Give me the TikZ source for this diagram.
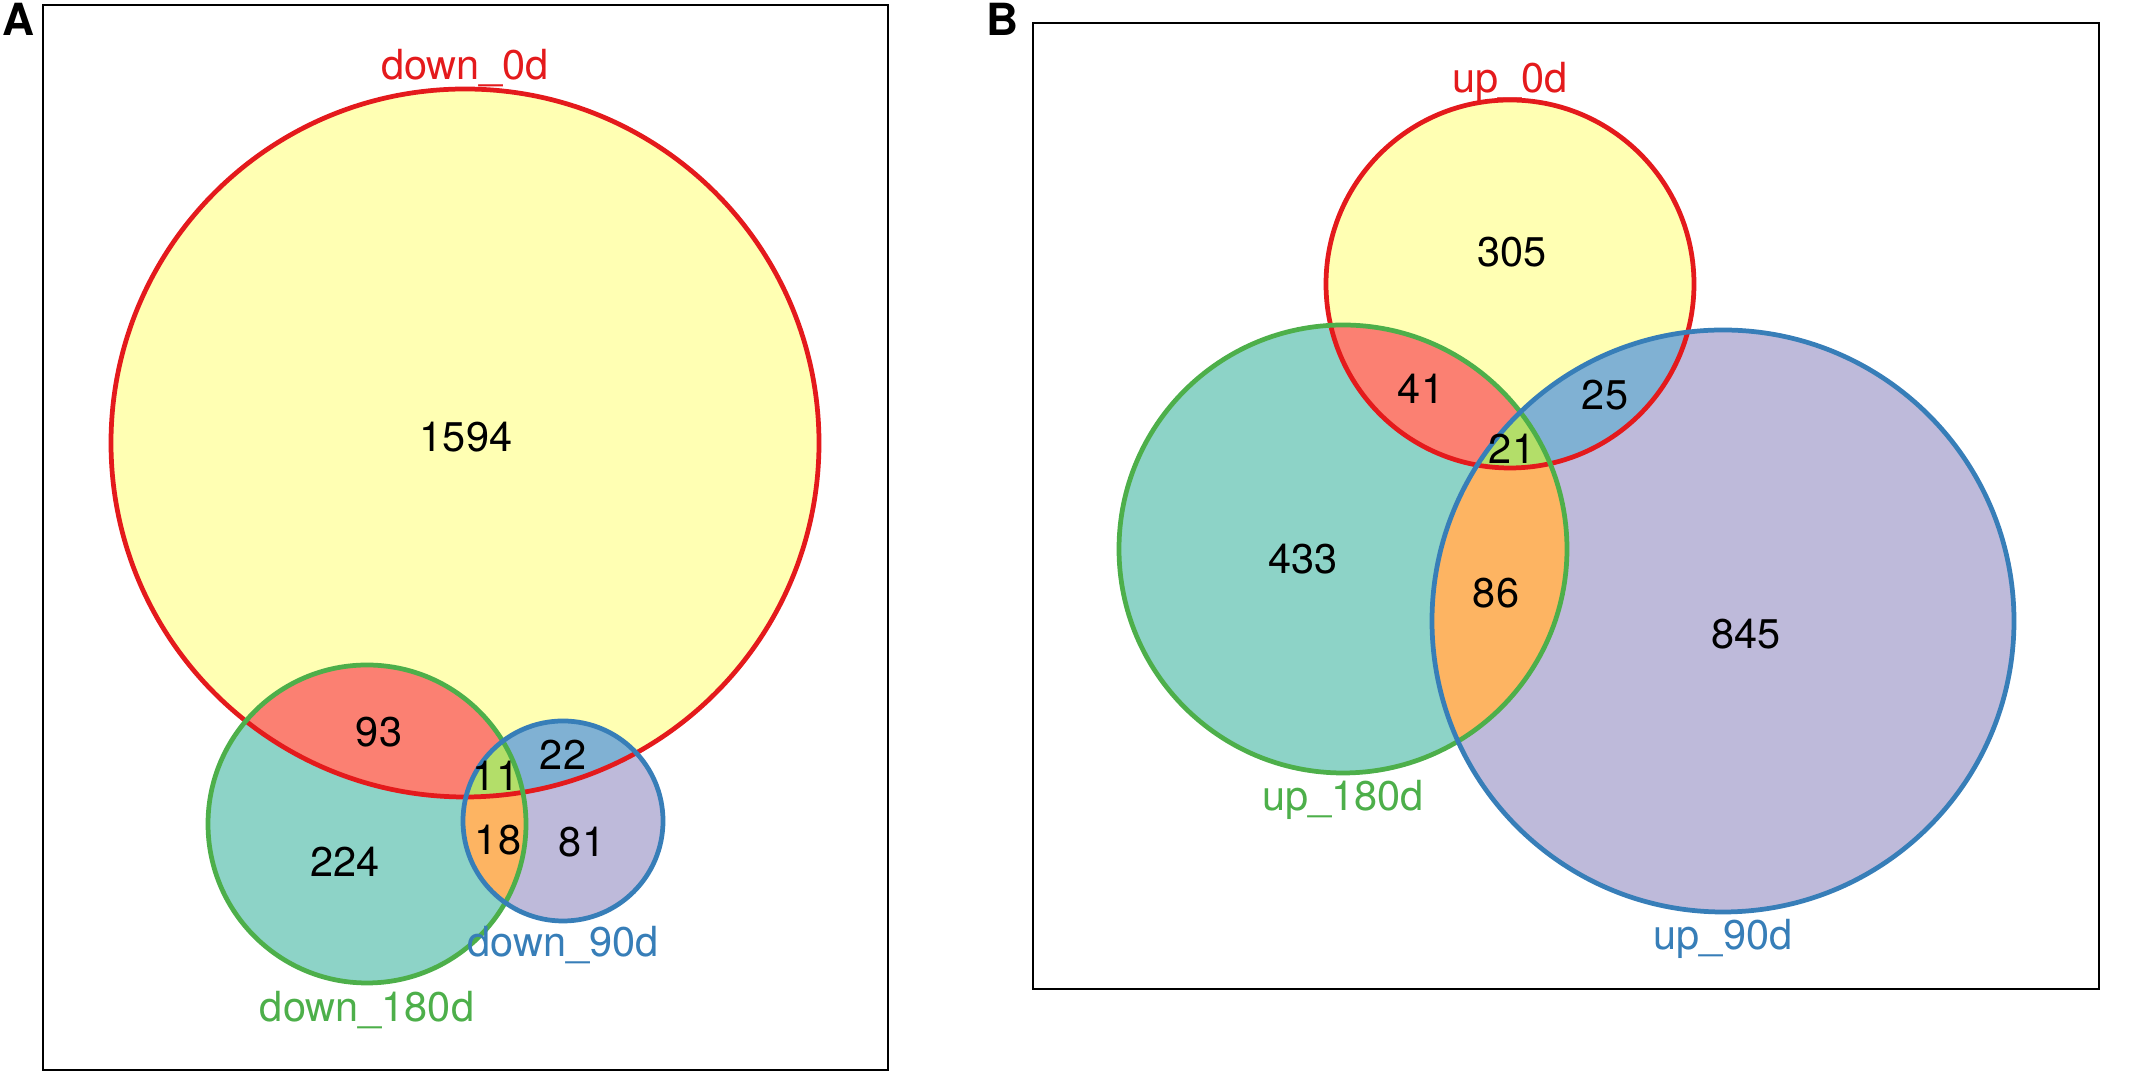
\documentclass[tikz,border=0pt]{standalone}
\usepackage{fontspec}
\setmainfont{TeX Gyre Heros}
\usepackage{tikz}
\tikzstyle{vennPlot} = [x = 0.01cm, y = -0.01cm]
\definecolor{lineRed}{HTML}{E41A1C}
\definecolor{lineGreen}{HTML}{4DAF4A}
\definecolor{lineBlue}{HTML}{377EB8}
\definecolor{fillYellow}{HTML}{FFFFB3}
\definecolor{fillTeal}{HTML}{8DD3C7}
\definecolor{fillLavender}{HTML}{BEBADA}
\definecolor{fillSalmon}{HTML}{FB8072}
\definecolor{fillBlue}{HTML}{80B1D3}
\definecolor{fillOrange}{HTML}{FDB462}
\definecolor{fillGreen}{HTML}{B3DE69}
\tikzstyle{frameLine} = [color=black, line width=.75pt]
\tikzstyle{circleLine} = [line width=1.35pt]
\tikzstyle{countText} = [font=\fontsize{11.8}{14}\selectfont, anchor=base, inner sep=0pt]
\tikzstyle{setText} = [countText]
\tikzstyle{panelText} = [font=\fontsize{12.6}{15}\selectfont\bfseries, inner sep=0pt]
% three sets: (#1,#2) r #3, (#4,#5) r #6, (#7,#8) r #9
\newcommand{\vennFills}[9]{
  \fill [fillYellow] (#1,#2) circle (#3);
  \fill [fillTeal] (#4,#5) circle (#6);
  \fill [fillLavender] (#7,#8) circle (#9);
  \begin{scope}
    \clip (#4,#5) circle (#6);
    \fill [fillOrange] (#7,#8) circle (#9);
  \end{scope}
  \begin{scope}
    \clip (#1,#2) circle (#3);
    \fill [fillSalmon] (#4,#5) circle (#6);
    \fill [fillBlue] (#7,#8) circle (#9);
    \clip (#4,#5) circle (#6);
    \fill [fillGreen] (#7,#8) circle (#9);
  \end{scope}
}
\newcommand{\vennLines}[9]{
  \draw [circleLine, lineRed] (#1,#2) circle (#3);
  \draw [circleLine, lineGreen] (#4,#5) circle (#6);
  \draw [circleLine, lineBlue] (#7,#8) circle (#9);
}

\begin{document}
\begin{tikzpicture}[vennPlot]
  \useasboundingbox (0,0) rectangle (2132,1074);

  % panel A
  \draw [frameLine] (43,5) rectangle (888,1070);
  \node (panelA) [panelText] at (18,19) {A};
  \vennFills{465}{443}{354}{367}{824}{159}{563}{821}{100}
  \node (downZero) [setText, text=lineRed] at (465,80) {down\_0d};
  \vennLines{465}{443}{354}{367}{824}{159}{563}{821}{100}
  \node (downEighty) [setText, text=lineGreen] at (367,1022) {down\_180d};
  \node (downNinety) [setText, text=lineBlue] at (563,957) {down\_90d};
  \node (downA) [countText] at (466,452) {1594};
  \node (downAB) [countText] at (379,747) {93};
  \node (downAC) [countText] at (563,770) {22};
  \node (downABC) [countText] at (496,791) {11};
  \node (downBC) [countText] at (498,855) {18};
  \node (downC) [countText] at (582,857) {81};
  \node (downB) [countText] at (345,877) {224};

  % panel B
  \draw [frameLine] (1033,23) rectangle (2099,989);
  \node (panelB) [panelText] at (1002,19) {B};
  \vennFills{1510}{284}{184}{1343}{549}{224}{1723}{621}{291}
  \node (upZero) [setText, text=lineRed] at (1510,93) {up\_0d};
  \vennLines{1510}{284}{184}{1343}{549}{224}{1723}{621}{291}
  \node (upEighty) [setText, text=lineGreen] at (1343,811) {up\_180d};
  \node (upNinety) [setText, text=lineBlue] at (1723,950) {up\_90d};
  \node (upA) [countText] at (1512,267) {305};
  \node (upAB) [countText] at (1421,404) {41};
  \node (upAC) [countText] at (1605,410) {25};
  \node (upABC) [countText] at (1512,464) {21};
  \node (upB) [countText] at (1303,574) {433};
  \node (upBC) [countText] at (1496,608) {86};
  \node (upC) [countText] at (1746,649) {845};
\end{tikzpicture}
\end{document}
